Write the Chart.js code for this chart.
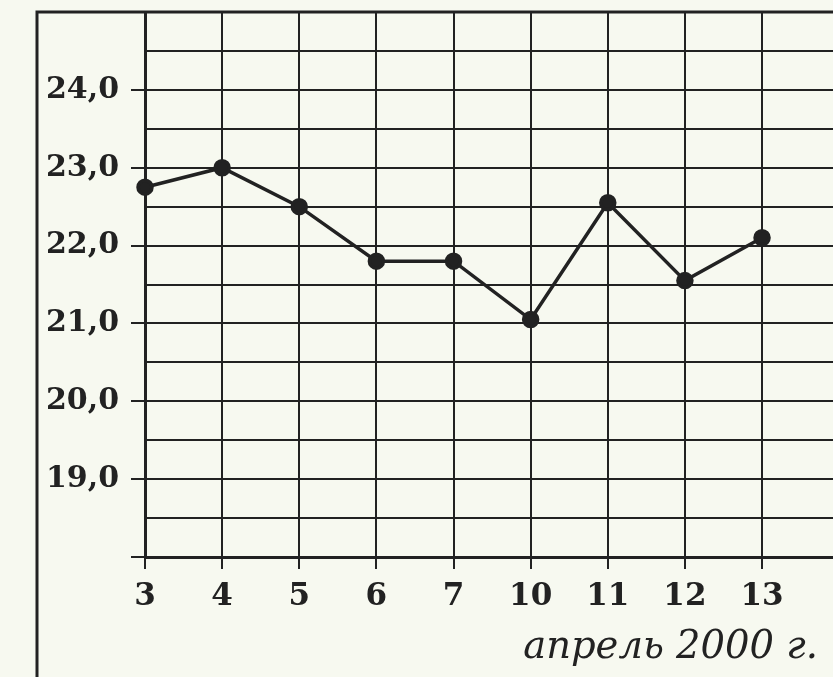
<!DOCTYPE html>
<html lang="ru">
<head>
  <meta charset="UTF-8">
  <title>апрель 2000 г.</title>
  <script src="https://cdn.jsdelivr.net/npm/chart.js"></script>
  <style>
    body { margin: 0; background: #f7f9f0; }
    #wrap { width: 833px; height: 677px; }
  </style>
</head>
<body>
<div id="wrap"><canvas id="chart" width="833" height="677"></canvas></div>

<script>
  // даты (апрель 2000) и значения
  const days = ['3', '4', '5', '6', '7', '10', '11', '12', '13'];
  const values = [22.75, 23.0, 22.5, 21.8, 21.8, 21.05, 22.55, 21.55, 22.1];
  const yLabelValues = [19, 20, 21, 22, 23, 24];
  const axisTitle = 'апрель 2000 г.';

  const ink = '#222';

  // рамка и подпись оси
  const framePlugin = {
    id: 'frame',
    afterDraw(chart) {
      const c = chart.ctx;
      c.save();
      c.strokeStyle = ink;
      c.lineWidth = 3;
      c.beginPath();
      c.moveTo(37, 677);
      c.lineTo(37, 12);
      c.lineTo(833, 12);
      c.stroke();
      c.fillStyle = ink;
      c.font = 'italic 38.5px "DejaVu Serif"';
      c.textAlign = 'right';
      c.textBaseline = 'alphabetic';
      c.fillText(axisTitle, 818, 658);
      c.restore();
    }
  };

  const ctx = document.getElementById('chart').getContext('2d');
  new Chart(ctx, {
    type: 'line',
    data: {
      datasets: [{
        data: values.map((v, i) => ({ x: i, y: v })),
        borderColor: ink,
        borderWidth: 3.5,
        pointRadius: 7,
        pointBackgroundColor: ink,
        pointBorderColor: ink,
        tension: 0,
        clip: false
      }]
    },
    options: {
      responsive: false,
      animation: false,
      devicePixelRatio: 1,
      layout: { autoPadding: false, padding: { top: 12, right: 0, left: 0, bottom: 0 } },
      plugins: { legend: { display: false }, tooltip: { enabled: false } },
      scales: {
        x: {
          type: 'linear',
          min: 0,
          max: 8.92,
          afterBuildTicks: (scale) => { scale.ticks = days.map((d, i) => ({ value: i })); },
          afterFit: (scale) => {
            scale.height = 120;
            scale.paddingLeft = 0;
            scale.paddingRight = 0;
          },
          border: { display: true, color: ink, width: 3 },
          grid: { color: ink, lineWidth: 2, tickLength: 12, tickColor: ink },
          ticks: {
            color: ink,
            padding: 9,
            maxRotation: 0,
            autoSkip: false,
            font: { family: '"DejaVu Serif"', size: 31, weight: 'bold' },
            callback: (v) => days[v]
          }
        },
        y: {
          min: 18,
          max: 25,
          afterFit: (scale) => {
            scale.width = 145;
            scale.paddingTop = 0;
            scale.paddingBottom = 0;
          },
          border: { display: true, color: ink, width: 3 },
          grid: {
            color: ink,
            lineWidth: 2,
            tickLength: 14,
            tickColor: (c) => Number.isInteger(c.tick.value) ? ink : 'rgba(0,0,0,0)'
          },
          ticks: {
            stepSize: 0.5,
            color: ink,
            padding: 12,
            autoSkip: false,
            font: { family: '"DejaVu Serif"', size: 30, weight: 'bold' },
            callback: (v) => yLabelValues.includes(v) ? v.toFixed(1).replace('.', ',') : ''
          }
        }
      }
    },
    plugins: [framePlugin]
  });
</script>
</body>
</html>
